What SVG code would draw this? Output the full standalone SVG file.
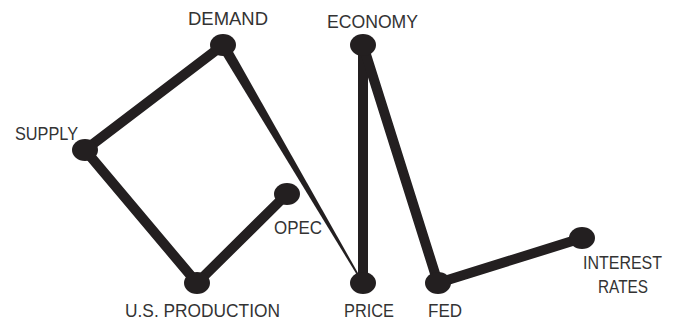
<svg xmlns="http://www.w3.org/2000/svg" width="675" height="324" viewBox="0 0 675 324">
  <style>
    .edge { stroke: #231f20; stroke-width: 10; stroke-linecap: round; stroke-linejoin: round; fill: none; }
    .dot { fill: #231f20; }
    .label { font-family: "Liberation Sans", Arial, sans-serif; font-size: 18px; fill: #333; }
  </style>
  <rect width="675" height="324" fill="#fff"/>
  <g id="connectors">
    <line class="edge" x1="223" y1="45" x2="85" y2="150"/>
    <line class="edge" x1="85" y1="150" x2="197" y2="283"/>
    <line class="edge" x1="197" y1="283" x2="287" y2="194"/>
    <!-- tapered link, heavy at DEMAND, hairline at PRICE -->
    <polygon fill="#231f20" points="218.5,48 227.5,42 358.5,274 357,275"/>
    <line class="edge" x1="363" y1="45" x2="363" y2="283"/>
    <line class="edge" x1="363" y1="45" x2="438" y2="283"/>
    <line class="edge" x1="438" y1="283" x2="582" y2="238"/>
  </g>
  <g id="demand">
    <ellipse class="dot" cx="223" cy="45" rx="13" ry="11"/>
    <text class="label" x="188" y="25" textLength="80" lengthAdjust="spacingAndGlyphs">DEMAND</text>
  </g>
  <g id="supply">
    <ellipse class="dot" cx="85" cy="150" rx="13" ry="11"/>
    <text class="label" x="15" y="140" textLength="63" lengthAdjust="spacingAndGlyphs">SUPPLY</text>
  </g>
  <g id="opec">
    <ellipse class="dot" cx="287" cy="194" rx="13" ry="11"/>
    <text class="label" x="274" y="234" textLength="48" lengthAdjust="spacingAndGlyphs">OPEC</text>
  </g>
  <g id="us-production">
    <ellipse class="dot" cx="197" cy="283" rx="13" ry="11"/>
    <text class="label" x="125" y="317" textLength="155" lengthAdjust="spacingAndGlyphs">U.S. PRODUCTION</text>
  </g>
  <g id="economy">
    <ellipse class="dot" cx="363" cy="45" rx="13" ry="11"/>
    <text class="label" x="327" y="28" textLength="91" lengthAdjust="spacingAndGlyphs">ECONOMY</text>
  </g>
  <g id="price">
    <ellipse class="dot" cx="363" cy="283" rx="13" ry="11"/>
    <text class="label" x="344" y="317" textLength="50" lengthAdjust="spacingAndGlyphs">PRICE</text>
  </g>
  <g id="fed">
    <ellipse class="dot" cx="438" cy="283" rx="13" ry="11"/>
    <text class="label" x="428" y="317" textLength="34" lengthAdjust="spacingAndGlyphs">FED</text>
  </g>
  <g id="interest-rates">
    <ellipse class="dot" cx="582" cy="238" rx="13" ry="11"/>
    <text class="label" x="583" y="269" textLength="79" lengthAdjust="spacingAndGlyphs">INTEREST</text>
    <text class="label" x="598" y="293" textLength="50" lengthAdjust="spacingAndGlyphs">RATES</text>
  </g>
</svg>
